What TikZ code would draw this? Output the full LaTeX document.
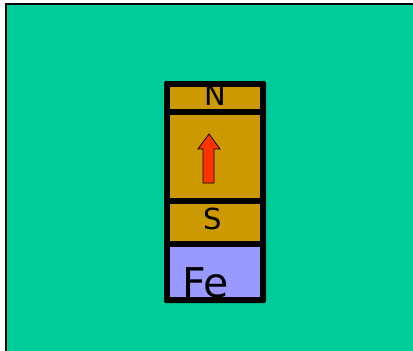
\documentclass[tikz,border=0pt]{standalone}
\usepackage{fontspec}
\setmainfont{DejaVu Sans}
\usetikzlibrary{positioning}

\definecolor{sea}{HTML}{00CC99}
\definecolor{gold}{HTML}{CC9900}
\definecolor{iron}{HTML}{9999FF}
\definecolor{spinred}{HTML}{FF3300}

\begin{document}
\begin{tikzpicture}[x=1pt, y=-1pt]
\tikzstyle{cell} = [rectangle, inner sep=0pt, minimum width=90pt, fill=gold]
\tikzstyle{pole} = [anchor=base, inner sep=0pt, text=black]

\useasboundingbox (0,0) rectangle (413,351);
\clip (0,0) rectangle (413,351);

% background
\fill[black] (5,3) rectangle (420,360);
\fill[sea] (7,5) rectangle (420,360);

% magnet frame
\node (frame) [rectangle, fill=black, rounded corners=2pt, inner sep=0pt, minimum width=102pt, minimum height=222pt] at (215,192) {};

\node (ncell) [cell, minimum height=22pt] at (215,98) {};
\node (body) [cell, minimum height=83pt] at (215,156.5) {};
\node (scell) [cell, minimum height=37pt] at (215,222.5) {};
\node (fecell) [cell, minimum height=50pt, fill=iron] at (215,272) {};

\node (nlabel) [pole, font=\fontsize{29}{29}\selectfont] at (215,105) {N};
\node (slabel) [pole, font=\fontsize{29}{29}\selectfont] at (213,229) {S};
\node (felabel) [pole, anchor=base west, font=\fontsize{41}{41}\selectfont] at (182,297) {Fe};

% spin arrow
\draw[fill=spinred, line width=0.8pt, line join=miter]
  (203,183) -- (203,149) -- (198,149) -- (209,134) -- (220,149) -- (214,149) -- (214,183) -- cycle;
\end{tikzpicture}
\end{document}
